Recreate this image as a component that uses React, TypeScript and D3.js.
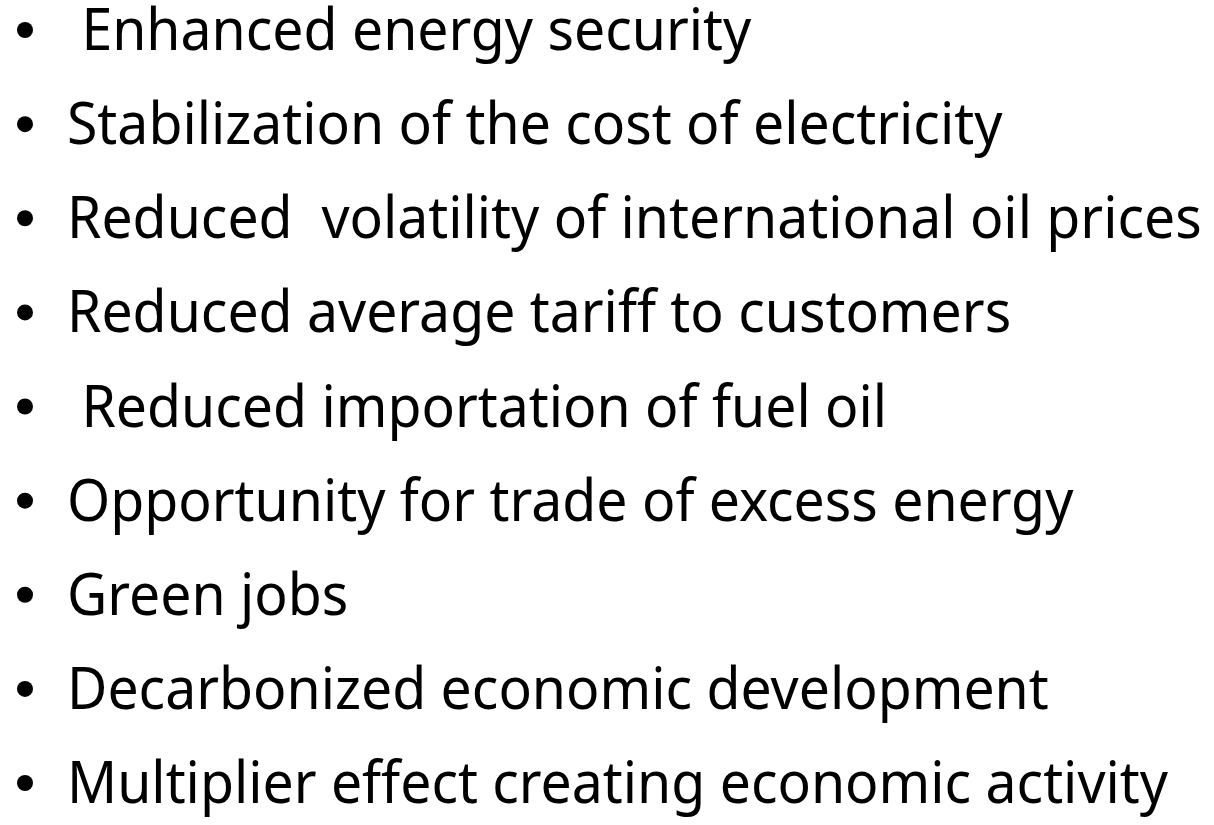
import { useEffect, useRef } from 'react'
import * as d3 from 'd3'

const items = [
  ' Enhanced energy security',
  'Stabilization of the cost of electricity',
  'Reduced  volatility of international oil prices',
  'Reduced average tariff to customers',
  ' Reduced importation of fuel oil',
  'Opportunity for trade of excess energy',
  'Green jobs',
  'Decarbonized economic development',
  'Multiplier effect creating economic activity',
]

export default function App() {
  const svgRef = useRef<SVGSVGElement | null>(null)

  useEffect(() => {
    if (!svgRef.current) return
    document.body.style.margin = '0'

    const width = 1214
    const height = 825
    const textX = 67
    const bulletX = 25

    const svg = d3.select(svgRef.current)
    svg.selectAll('*').remove()
    svg.attr('width', width).attr('height', height).style('background', '#fff')

    // baselines of the rows
    const y = d3.scaleLinear().domain([0, items.length - 1]).range([50, 803])

    const rows = svg
      .selectAll('.row')
      .data(items)
      .enter()
      .append('g')
      .attr('class', 'row')

    rows
      .append('circle')
      .attr('cx', bulletX)
      .attr('cy', (d, i) => y(i) - 20)
      .attr('r', 8)
      .attr('fill', '#000')

    const labels = rows
      .append('text')
      .attr('x', 0)
      .attr('y', 0)
      .style('font-family', '"Noto Sans", "Open Sans", sans-serif')
      .style('font-size', '58px')
      .style('white-space', 'pre')
      .attr('fill', '#000')
      .text(d => d)

    // squeeze the wider fallback font to the width of the longest line
    const longest = labels.nodes()[2] as SVGTextElement
    const len = longest.getComputedTextLength()
    const sx = len > 0 ? 1135 / len : 1

    labels.attr('transform', (d, i) => `translate(${textX}, ${y(i)}) scale(${sx}, 1)`)
  }, [])

  return <svg ref={svgRef} style={{ display: 'block' }}></svg>
}
